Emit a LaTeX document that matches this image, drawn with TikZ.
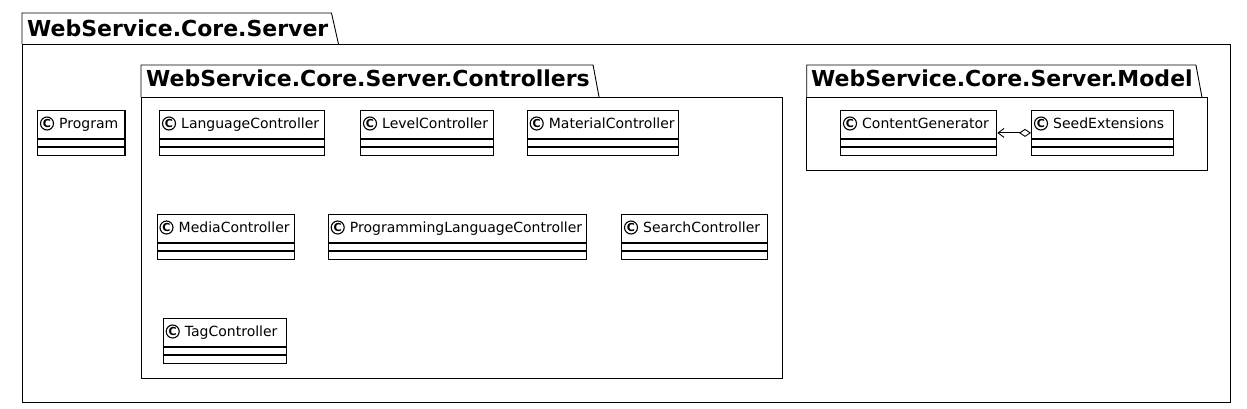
\documentclass[tikz,border=0pt]{standalone}
\usepackage{fontspec}
\setmainfont{DejaVu Sans}
\usepackage{tikz}
\usetikzlibrary{
  positioning,
  arrows.meta,
  calc
}

\begin{document}
\begin{tikzpicture}[
  x=1pt, y=-1pt,
  pkg/.style={draw, line width=0.9pt},
  pkgtitle/.style={font=\fontsize{22}{26}\selectfont\bfseries, inner sep=0pt, anchor=base west},
  cls/.style={draw, line width=1.3pt, fill=white, minimum height=44.5pt, inner sep=0pt,
              anchor=north west},
  clsline/.style={line width=1.3pt},
  clsicon/.style={circle, draw, line width=1.1pt, minimum size=13pt, inner sep=0pt,
                  font=\fontsize{11}{11}\selectfont\bfseries},
  clsname/.style={font=\fontsize{14}{16}\selectfont, inner sep=0pt, anchor=base west},
  assoc/.style={line width=0.9pt,
                {Diamond[open, length=12pt, width=8pt]}-{Straight Barb[length=6pt, width=9pt]}}
]
  \useasboundingbox (0,0) rectangle (1247,408);

  % Outer package
  \node[pkgtitle] (srvT) at (27,36) {WebService.Core.Server};
  \coordinate (srvTab) at ($(srvT.east |- 0,13)+(3,0)$);
  \draw[pkg] (22,44) -- (22,13) -- (srvTab) -- ($(srvTab |- 0,44)+(7,0)$);
  \draw[pkg] (22,44) rectangle (1230,402);

  % Controllers package
  \node[pkgtitle] (ctlT) at (146,86) {WebService.Core.Server.Controllers};
  \coordinate (ctlTab) at ($(ctlT.east |- 0,65)+(3,0)$);
  \draw[pkg] (141,97) -- (141,65) -- (ctlTab) -- ($(ctlTab |- 0,97)+(6,0)$);
  \draw[pkg] (141,97) rectangle (782.7,378.7);

  % Model package
  \node[pkgtitle] (mdlT) at (811,86) {WebService.Core.Server.Model};
  \coordinate (mdlTab) at ($(mdlT.east |- 0,65)+(3,0)$);
  \draw[pkg] (806.7,97) -- (806.7,65) -- (mdlTab) -- ($(mdlTab |- 0,97)+(6,0)$);
  \draw[pkg] (806.7,97) rectangle (1207.7,170);

  % Classes
  \foreach \nm/\x/\y/\w/\lbl in {
      prog/37/110/87.3/Program,
      lang/159/110/165/LanguageController,
      level/360/110/132.7/LevelController,
      mat/526.7/110/151/MaterialController,
      media/156.5/214/137.5/MediaController,
      proglang/327.7/214/258.3/ProgrammingLanguageController,
      search/621/214/145.7/SearchController,
      tag/162.7/318/123.3/TagController,
      gen/840/110/156/ContentGenerator,
      seed/1031/110/141.7/SeedExtensions} {
    \node[cls, minimum width=\w] (\nm) at (\x,\y) {};
    \draw[clsline] ([yshift=-29pt]\nm.north west) -- ([yshift=-29pt]\nm.north east);
    \draw[clsline] ([yshift=-37pt]\nm.north west) -- ([yshift=-37pt]\nm.north east);
    \node[clsicon] (\nm C) at ([xshift=10pt, yshift=-13.5pt]\nm.north west) {C};
    \node[clsname] (\nm N) at ([xshift=22pt, yshift=-18pt]\nm.north west) {\lbl};
  }

  % Association
  \draw[assoc] (seed.west) -- (gen.east);
\end{tikzpicture}
\end{document}
